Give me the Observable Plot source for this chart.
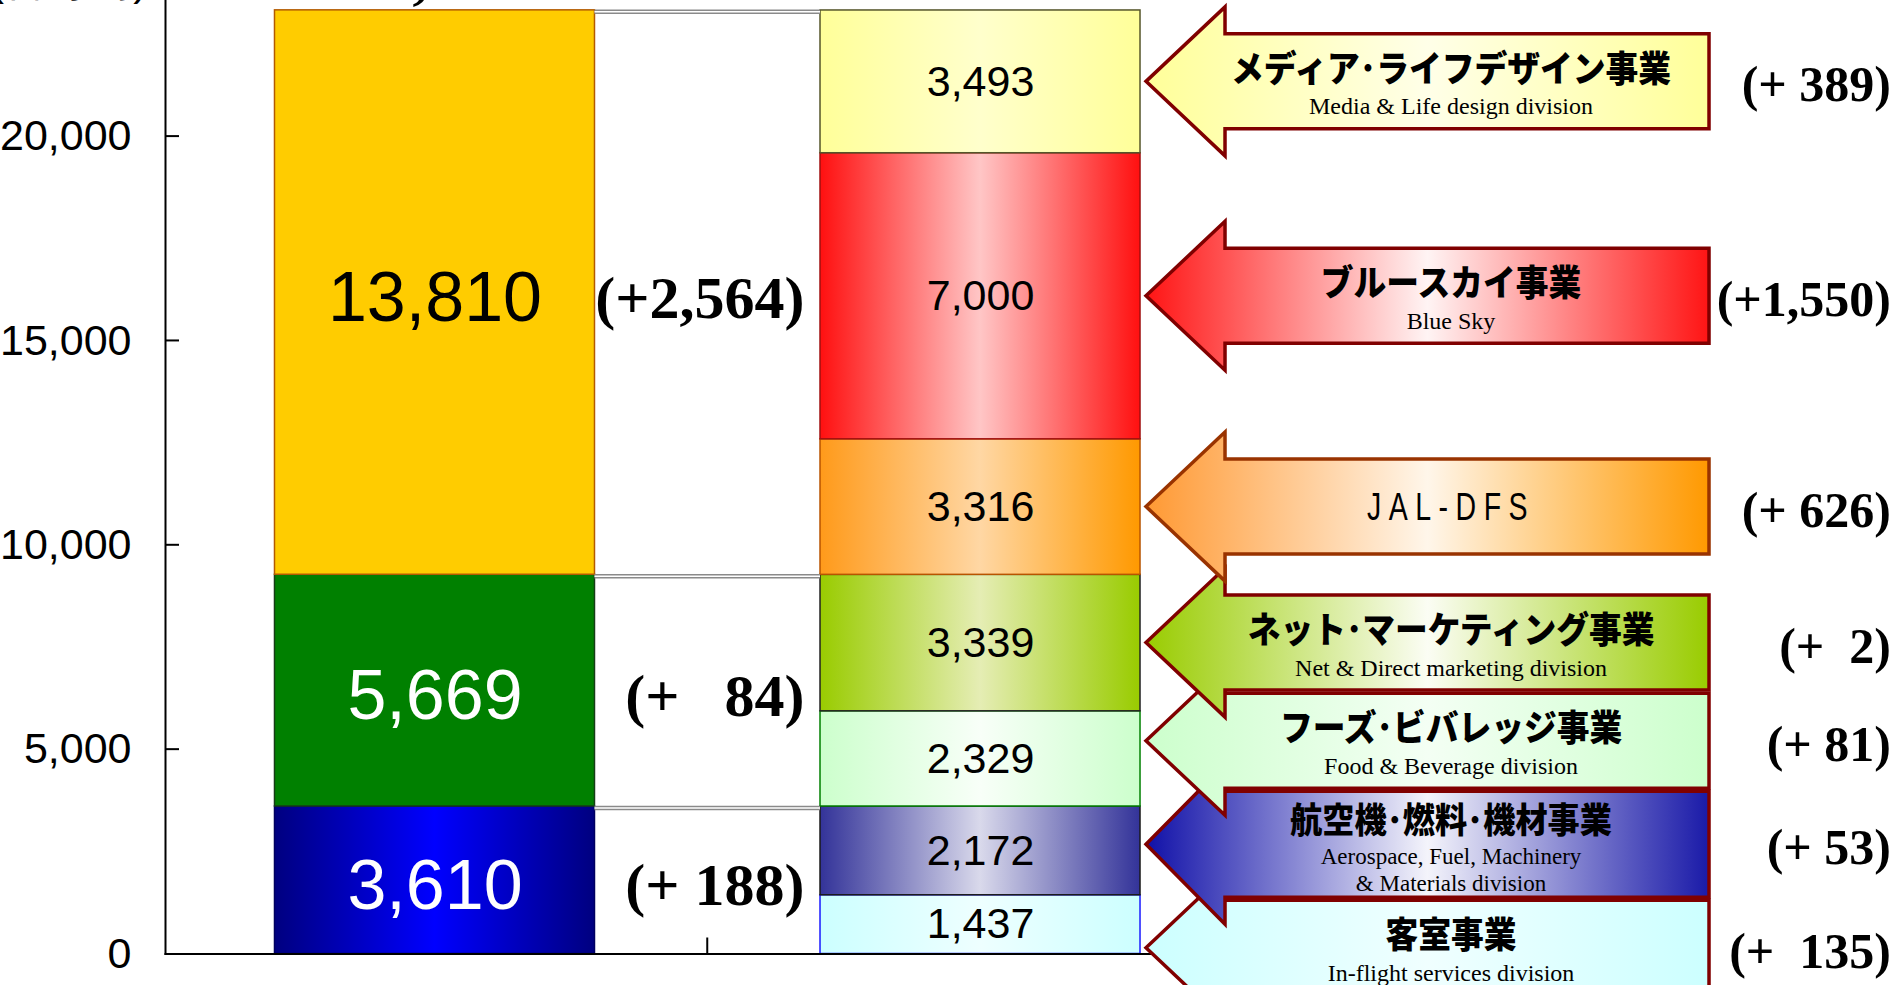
<!DOCTYPE html>
<html>
<head>
<meta charset="utf-8">
<script src="https://cdn.jsdelivr.net/npm/d3@7"></script>
<script src="https://cdn.jsdelivr.net/npm/@observablehq/plot@0.6"></script>
<style>
html, body { margin: 0; padding: 0; background: #fff; overflow: hidden; }
#chart svg { display: block; }
</style>
</head>
<body>
<div id="chart"></div>
<script>
// ---------------- DATA ----------------
const periods = ["前年度", "当年度"];
const yTicks = [0, 5000, 10000, 15000, 20000];
const yUnit = "(百万円)";

// previous period stack (bottom → top)
const prevValues = [3610, 5669, 13810];
const prevChangeLabels = ["(+ 188)", "(+   84)", "(+2,564)"];
const prevTotal = 23089;

// current period stack by division (bottom → top)
const divisionsJa = ["客室事業", "航空機･燃料･機材事業", "フーズ･ビバレッジ事業", "ネット･マーケティング事業", "JAL-DFS", "ブルースカイ事業", "メディア･ライフデザイン事業"];
const divisionsEn = ["In-flight services division", "Aerospace, Fuel, Machinery\n& Materials division", "Food & Beverage division", "Net & Direct marketing division", "", "Blue Sky", "Media & Life design division"];
const currValues = [1437, 2172, 2329, 3339, 3316, 7000, 3493];
const currChangeLabels = ["(+  135)", "(+ 53)", "(+ 81)", "(+  2)", "(+ 626)", "(+1,550)", "(+ 389)"];

// ---------------- STYLES ----------------
const prevStyle = [
  {stops: ["#000080", "#0000ff", "#000080"], stroke: "#000060", text: "#ffffff"},
  {stops: ["#008000", "#008000", "#008000"], stroke: "#163d16", text: "#ffffff"},
  {stops: ["#ffcc00", "#ffcc00", "#ffcc00"], stroke: "#b35a00", text: "#000000"}
];
const currStyle = [
  {bar: ["#ccffff", "#eeffff", "#ccffff"], stroke: "#1a1aff", arrow: ["#ccffff", "#f0ffff", "#ccffff"], edge: "#800000"},
  {bar: ["#333399", "#d9d9eb", "#333399"], stroke: "#1a1a1a", arrow: ["#1010a8", "#f4f4fb", "#1a1aa8"], edge: "#800000"},
  {bar: ["#ccffcc", "#f8fff8", "#ccffcc"], stroke: "#008000", arrow: ["#ccffcc", "#f4fff4", "#ccffcc"], edge: "#800000"},
  {bar: ["#99cc00", "#e5edb4", "#99cc00"], stroke: "#222222", arrow: ["#99cc00", "#fbfdf4", "#99cc00"], edge: "#800000"},
  {bar: ["#ff9a1a", "#ffd7a4", "#ff9900"], stroke: "#b85400", arrow: ["#ff9933", "#fff6ea", "#ff9900"], edge: "#993300"},
  {bar: ["#ff1010", "#ffc6c6", "#ff1010"], stroke: "#a01010", arrow: ["#ff1414", "#fff4f4", "#ff1414"], edge: "#800000"},
  {bar: ["#ffff99", "#ffffcc", "#ffff99"], stroke: "#55552a", arrow: ["#ffff99", "#ffffe8", "#ffff99"], edge: "#800000"}
];

const W = 1896, H = 985;
const margin = {left: 165, right: W - 1249.5, top: 0, bottom: H - 953.5};
const yMax = 23330;
const xOpts = {type: "band", domain: periods, paddingInner: 0.4134, paddingOuter: 0.2007, round: false};
const xs = Plot.scale({x: {...xOpts, range: [margin.left, W - margin.right]}});
const bw = xs.bandwidth;

const sans = "'Liberation Sans', Arial, sans-serif";
const serif = "'Liberation Serif', 'Times New Roman', serif";
const jp = "'Noto Sans CJK JP', sans-serif";
const fmt = d3.format(",");

function stackUp(values) {
  let acc = 0;
  return values.map((v, i) => ({i, v, y1: acc, y2: (acc += v)}));
}
const prevData = stackUp(prevValues).map(d => ({
  ...d, period: periods[0], fill: `url(#prev${d.i})`, stroke: prevStyle[d.i].stroke,
  textFill: prevStyle[d.i].text, change: prevChangeLabels[d.i]
}));
const currData = stackUp(currValues).map(d => ({
  ...d, period: periods[1], fill: `url(#curr${d.i})`, stroke: currStyle[d.i].stroke,
  ja: divisionsJa[d.i], en: divisionsEn[d.i], change: currChangeLabels[d.i]
}));

// ---------------- CUSTOM RENDER MARKS ----------------
function defsMark() {
  const defs = d3.create("svg:defs");
  const addGrad = (id, stops) => {
    const g = defs.append("linearGradient").attr("id", id)
      .attr("x1", 0).attr("x2", 1).attr("y1", 0).attr("y2", 0);
    stops.forEach((c, k) => g.append("stop").attr("offset", k / (stops.length - 1)).attr("stop-color", c));
  };
  prevStyle.forEach((s, i) => addGrad("prev" + i, s.stops));
  currStyle.forEach((s, i) => { addGrad("curr" + i, s.bar); addGrad("arrow" + i, s.arrow); });
  return defs.node();
}

function seriesLines(index, {x, y}) {
  const g = d3.create("svg:g");
  const x1 = x(periods[0]) + bw, x2 = x(periods[1]);
  for (const d of prevData) {
    const yy = y(d.y2) + 2;
    g.append("line").attr("x1", x1).attr("x2", x2).attr("y1", yy).attr("y2", yy)
      .attr("stroke", "#8a8a8a").attr("stroke-width", 4.5);
    g.append("line").attr("x1", x1).attr("x2", x2).attr("y1", yy).attr("y2", yy)
      .attr("stroke", "#ffffff").attr("stroke-width", 1.5);
  }
  return g.node();
}

function innerTicks(index, {x, y}, values, dims) {
  const g = d3.create("svg:g").attr("stroke", "#000").attr("stroke-width", 2);
  for (const t of yTicks.filter(t => t > 0)) {
    g.append("line").attr("x1", dims.marginLeft).attr("x2", dims.marginLeft + 14)
      .attr("y1", y(t)).attr("y2", y(t));
  }
  const bx = (x(periods[0]) + bw + x(periods[1])) / 2;
  g.append("line").attr("x1", bx).attr("x2", bx).attr("y1", y(0)).attr("y2", y(0) - 16);
  return g.node();
}

function arrowsMark(index, {x, y}) {
  const g = d3.create("svg:g");
  const tip = x(periods[1]) + bw + 6;
  const headW = 79, bodyRight = tip + 563, headExtra = 27, gap = 3;
  // layout: arrows centred on their segment; clusters of overlapping arrows are shifted together
  const items = currData.slice().reverse().map(d => ({
    d, h: d.en.includes("\n") ? 106 : 95, want: y((d.y1 + d.y2) / 2)
  }));
  const clusters = [];
  for (const it of items) {
    clusters.push({items: [it], top: it.want - it.h / 2, height: it.h});
    while (clusters.length > 1) {
      const a = clusters[clusters.length - 2], b = clusters[clusters.length - 1];
      if (a.top + a.height + gap <= b.top) break;
      const merged = {items: [...a.items, ...b.items]};
      let off = 0; const offs = [];
      for (const m of merged.items) { offs.push(off); off += m.h + gap; }
      merged.height = off - gap;
      merged.top = d3.mean(merged.items, (m, k) => m.want - m.h / 2 - offs[k]);
      clusters.splice(-2, 2, merged);
    }
  }
  for (const c of clusters) {
    let off = 0;
    for (const m of c.items) { m.top = c.top + off; m.cy = m.top + m.h / 2; off += m.h + gap; }
  }
  // draw bottom first so upper arrows overlap lower ones
  for (const m of items.slice().reverse()) {
    const s = currStyle[m.d.i];
    const top = m.top, bot = m.top + m.h, cy = m.cy, hh = m.h / 2 + headExtra;
    const hx = tip + headW;
    const path = `M${tip},${cy} L${hx},${cy - hh} L${hx},${top} L${bodyRight},${top} L${bodyRight},${bot} L${hx},${bot} L${hx},${cy + hh} Z`;
    g.append("path").attr("d", path).attr("fill", `url(#arrow${m.d.i})`)
      .attr("stroke", s.edge).attr("stroke-width", 3.5).attr("stroke-linejoin", "miter");
    const tx = tip + 305;
    if (m.d.en === "") {
      g.append("g").attr("transform", `translate(${tx},${cy}) scale(0.75,1)`)
        .append("text").attr("text-anchor", "middle")
        .attr("dominant-baseline", "central").attr("font-family", sans).attr("font-size", 38)
        .attr("letter-spacing", 10).text(m.d.ja);
    } else {
      const lines = m.d.en.split("\n");
      const two = lines.length > 1;
      const jy = two ? cy - 26 : cy - 15;
      const jSize = two ? 35 : 36, eSize = two ? 23 : 24;
      g.append("g").attr("transform", `translate(${tx},${jy}) scale(${two ? 0.92 : 0.91},1)`)
        .append("text").attr("text-anchor", "middle")
        .attr("dominant-baseline", "central").attr("font-family", jp).attr("font-weight", 900)
        .attr("font-size", jSize).text(m.d.ja);
      lines.forEach((ln, k) => {
        g.append("g").attr("transform", `translate(${tx},${jy + (two ? 38 : 40) + k * 27}) scale(1,1)`)
          .append("text").attr("text-anchor", "middle")
          .attr("dominant-baseline", "central").attr("font-family", serif).attr("font-size", eSize)
          .style("white-space", "pre").text(ln);
      });
    }
    g.append("text").attr("x", W - 5).attr("y", cy + 3).attr("text-anchor", "end")
      .attr("dominant-baseline", "central").attr("font-family", serif).attr("font-weight", "bold")
      .attr("font-size", 50).style("white-space", "pre").text(m.d.change);
  }
  return g.node();
}

// ---------------- PLOT ----------------
const plot = Plot.plot({
  width: W, height: H,
  marginLeft: margin.left, marginRight: margin.right, marginTop: margin.top, marginBottom: margin.bottom,
  x: {...xOpts, axis: null},
  y: {domain: [0, yMax]},
  color: {type: "identity"},
  style: {background: "#fff", color: "#000", overflow: "hidden", fontFamily: sans},
  marks: [
    defsMark,
    Plot.barY(prevData, {x: "period", y1: "y1", y2: "y2", fill: "fill", stroke: "stroke", strokeWidth: 1.5}),
    Plot.barY(currData, {x: "period", y1: "y1", y2: "y2", fill: "fill", stroke: "stroke", strokeWidth: 1.5}),
    seriesLines,
    Plot.text(prevData, {x: "period", y: d => (d.y1 + d.y2) / 2, text: d => fmt(d.v), fill: "textFill",
      fontSize: 70, fontFamily: sans, dy: 6}),
    Plot.text(currData, {x: "period", y: d => (d.y1 + d.y2) / 2, text: d => fmt(d.v), fill: "#000",
      fontSize: 43, fontFamily: sans}),
    Plot.text(prevData, {x: () => periods[1], y: d => (d.y1 + d.y2) / 2, text: "change", textAnchor: "end",
      dx: -(bw / 2 + 16), dy: 6, fontSize: 60, fontWeight: "bold", fontFamily: serif, fill: "#000"}),
    Plot.text([prevTotal], {x: () => periods[0], y: d => d, text: d => fmt(d), lineAnchor: "bottom",
      dy: -12, fontSize: 60, fontWeight: "bold", fontFamily: serif, fill: "#000"}),
    Plot.axisY({ticks: yTicks, tickFormat: d3.format(","), tickSize: 0, tickPadding: 34, fontSize: 43,
      fontFamily: sans, label: null}),
    innerTicks,
    Plot.frame({anchor: "left", stroke: "#000", strokeWidth: 2}),
    Plot.frame({anchor: "bottom", stroke: "#000", strokeWidth: 2}),
    arrowsMark,
    Plot.text([yUnit], {frameAnchor: "top-left", textAnchor: "end", lineAnchor: "bottom", dx: -18, dy: -6,
      fontSize: 43, fontFamily: sans, fill: "#000"})
  ]
});
document.getElementById("chart").appendChild(plot);
</script>
</body>
</html>
